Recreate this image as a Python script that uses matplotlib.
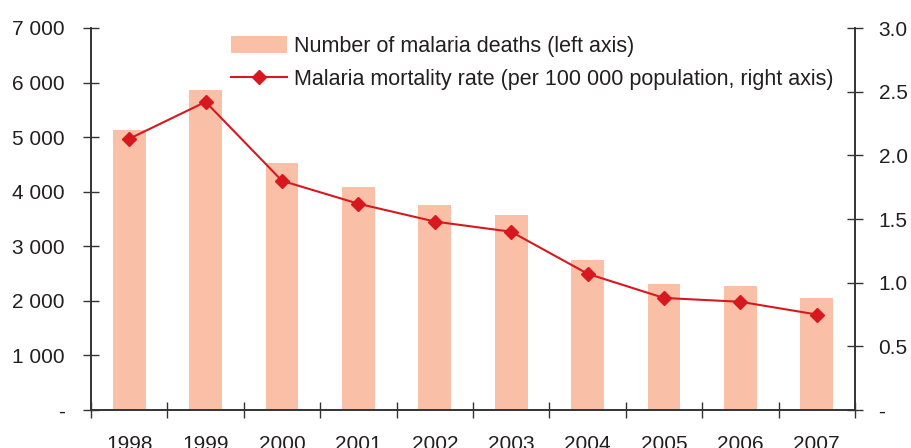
import matplotlib
matplotlib.use("Agg")
import matplotlib.pyplot as plt
from matplotlib.ticker import FuncFormatter, FixedLocator
from matplotlib.lines import Line2D
from matplotlib.patches import Patch

plt.rcParams['font.family'] = ['Liberation Sans', 'DejaVu Sans']

years = ['1998', '1999', '2000', '2001', '2002', '2003', '2004', '2005', '2006', '2007']
deaths = [5130, 5860, 4520, 4090, 3760, 3570, 2750, 2310, 2270, 2050]
mortality_rate = [2.13, 2.42, 1.80, 1.62, 1.48, 1.40, 1.07, 0.88, 0.85, 0.75]

bar_color = '#F9BFA7'
line_color = '#D7191F'
text_color = '#231F20'

fig = plt.figure(figsize=(9.11, 4.48), dpi=100)
ax = fig.add_axes([0.0999, 0.0848, 0.8386, 0.8527])
ax2 = ax.twinx()

x = list(range(len(years)))
ax.bar(x, deaths, width=0.43, color=bar_color, zorder=1)
ax2.plot(x, mortality_rate, color=line_color, lw=1.5, marker='D', ms=7,
         markerfacecolor=line_color, markeredgecolor=line_color, zorder=3)

ax.set_xlim(-0.5, len(years) - 0.5)
ax.set_ylim(0, 7000)
ax2.set_ylim(0, 3.0)

ax.set_yticks(range(0, 7001, 1000))
ax.yaxis.set_major_formatter(FuncFormatter(
    lambda v, p: '-' if v == 0 else f'{int(v):,}'.replace(',', ' ')))
ax2.set_yticks([0, 0.5, 1.0, 1.5, 2.0, 2.5, 3.0])
ax2.yaxis.set_major_formatter(FuncFormatter(
    lambda v, p: '-' if v == 0 else f'{v:.1f}'))

ax.set_xticks(x)
ax.set_xticklabels(years)
ax.xaxis.set_minor_locator(FixedLocator([i - 0.5 for i in range(len(years) + 1)]))
ax.tick_params(axis='x', which='major', length=0, pad=18, labelsize=15, labelcolor=text_color)
ax.tick_params(axis='x', which='minor', length=12, direction='inout', width=1, color='#333333')
ax.tick_params(axis='y', length=12, direction='inout', width=1, pad=13,
               labelsize=15, labelcolor=text_color, color='#333333')
ax2.tick_params(axis='y', length=12, direction='inout', width=1, pad=11,
                labelsize=15, labelcolor=text_color, color='#333333')

for a in (ax, ax2):
    a.spines['top'].set_visible(False)
    for s in ('left', 'right', 'bottom'):
        a.spines[s].set_color('#333333')
        a.spines[s].set_linewidth(1.2)

handles = [Patch(facecolor=bar_color, edgecolor='none'),
           Line2D([0], [0], color=line_color, lw=1.5, marker='D', ms=7)]
labels = ['Number of malaria deaths (left axis)',
          'Malaria mortality rate (per 100 000 population, right axis)']
ax2.legend(handles, labels, loc='upper left', bbox_to_anchor=(0.158, 1.03),
           frameon=False, fontsize=15.5, labelcolor=text_color,
           handlelength=2.6, handleheight=0.8, handletextpad=0.3, labelspacing=0.55)

fig.savefig('out.png', dpi=100)
